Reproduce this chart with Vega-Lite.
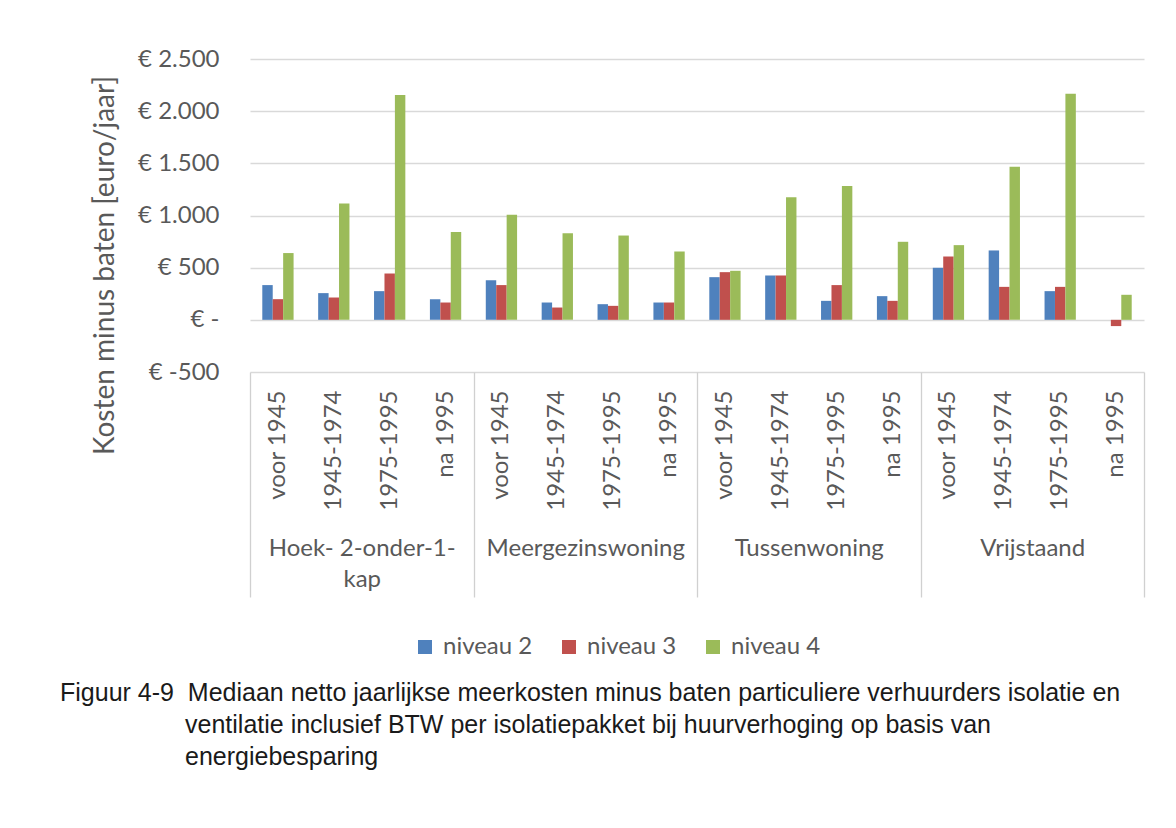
{
  "$schema": "https://vega.github.io/schema/vega-lite/v6.json",
  "width": 894,
  "height": 313,
  "autosize": "none",
  "padding": {"left": 250, "top": 59, "right": 32, "bottom": 456},
  "background": "white",
  "config": {
    "view": {"stroke": null},
    "font": "Lato",
    "axis": {"labelFont": "Lato", "titleFont": "Lato", "labelColor": "#595959", "titleColor": "#595959"},
    "legend": {"labelFont": "Lato"}
  },
  "title": {
    "text": [
      "Figuur 4-9\u00a0\u00a0Mediaan netto jaarlijkse meerkosten minus baten particuliere verhuurders isolatie en",
      "\u200b\u00a0\u00a0\u00a0\u00a0\u00a0\u00a0\u00a0\u00a0\u00a0\u00a0\u00a0\u00a0\u00a0\u00a0\u00a0\u00a0\u00a0\u00a0ventilatie inclusief BTW per isolatiepakket bij huurverhoging op basis van",
      "\u200b\u00a0\u00a0\u00a0\u00a0\u00a0\u00a0\u00a0\u00a0\u00a0\u00a0\u00a0\u00a0\u00a0\u00a0\u00a0\u00a0\u00a0\u00a0energiebesparing"
    ],
    "orient": "bottom",
    "anchor": "start",
    "frame": "group",
    "dx": -190,
    "offset": 22,
    "font": "Liberation Sans",
    "fontSize": 25,
    "fontWeight": "normal",
    "color": "#1a1a1a",
    "lineHeight": 32
  },
  "data": {
    "values": [
      {"g": "Hoek- 2-onder-1-kap", "p": "voor 1945", "key": "Hoek- 2-onder-1-kap|voor 1945", "n": "niveau 2", "v": 333},
      {"g": "Hoek- 2-onder-1-kap", "p": "voor 1945", "key": "Hoek- 2-onder-1-kap|voor 1945", "n": "niveau 3", "v": 198},
      {"g": "Hoek- 2-onder-1-kap", "p": "voor 1945", "key": "Hoek- 2-onder-1-kap|voor 1945", "n": "niveau 4", "v": 640},
      {"g": "Hoek- 2-onder-1-kap", "p": "1945-1974", "key": "Hoek- 2-onder-1-kap|1945-1974", "n": "niveau 2", "v": 256},
      {"g": "Hoek- 2-onder-1-kap", "p": "1945-1974", "key": "Hoek- 2-onder-1-kap|1945-1974", "n": "niveau 3", "v": 214},
      {"g": "Hoek- 2-onder-1-kap", "p": "1945-1974", "key": "Hoek- 2-onder-1-kap|1945-1974", "n": "niveau 4", "v": 1115},
      {"g": "Hoek- 2-onder-1-kap", "p": "1975-1995", "key": "Hoek- 2-onder-1-kap|1975-1995", "n": "niveau 2", "v": 275},
      {"g": "Hoek- 2-onder-1-kap", "p": "1975-1995", "key": "Hoek- 2-onder-1-kap|1975-1995", "n": "niveau 3", "v": 444},
      {"g": "Hoek- 2-onder-1-kap", "p": "1975-1995", "key": "Hoek- 2-onder-1-kap|1975-1995", "n": "niveau 4", "v": 2154},
      {"g": "Hoek- 2-onder-1-kap", "p": "na 1995", "key": "Hoek- 2-onder-1-kap|na 1995", "n": "niveau 2", "v": 198},
      {"g": "Hoek- 2-onder-1-kap", "p": "na 1995", "key": "Hoek- 2-onder-1-kap|na 1995", "n": "niveau 3", "v": 166},
      {"g": "Hoek- 2-onder-1-kap", "p": "na 1995", "key": "Hoek- 2-onder-1-kap|na 1995", "n": "niveau 4", "v": 841},
      {"g": "Meergezinswoning", "p": "voor 1945", "key": "Meergezinswoning|voor 1945", "n": "niveau 2", "v": 380},
      {"g": "Meergezinswoning", "p": "voor 1945", "key": "Meergezinswoning|voor 1945", "n": "niveau 3", "v": 333},
      {"g": "Meergezinswoning", "p": "voor 1945", "key": "Meergezinswoning|voor 1945", "n": "niveau 4", "v": 1007},
      {"g": "Meergezinswoning", "p": "1945-1974", "key": "Meergezinswoning|1945-1974", "n": "niveau 2", "v": 166},
      {"g": "Meergezinswoning", "p": "1945-1974", "key": "Meergezinswoning|1945-1974", "n": "niveau 3", "v": 118},
      {"g": "Meergezinswoning", "p": "1945-1974", "key": "Meergezinswoning|1945-1974", "n": "niveau 4", "v": 831},
      {"g": "Meergezinswoning", "p": "1975-1995", "key": "Meergezinswoning|1975-1995", "n": "niveau 2", "v": 150},
      {"g": "Meergezinswoning", "p": "1975-1995", "key": "Meergezinswoning|1975-1995", "n": "niveau 3", "v": 134},
      {"g": "Meergezinswoning", "p": "1975-1995", "key": "Meergezinswoning|1975-1995", "n": "niveau 4", "v": 808},
      {"g": "Meergezinswoning", "p": "na 1995", "key": "Meergezinswoning|na 1995", "n": "niveau 2", "v": 166},
      {"g": "Meergezinswoning", "p": "na 1995", "key": "Meergezinswoning|na 1995", "n": "niveau 3", "v": 166},
      {"g": "Meergezinswoning", "p": "na 1995", "key": "Meergezinswoning|na 1995", "n": "niveau 4", "v": 655},
      {"g": "Tussenwoning", "p": "voor 1945", "key": "Tussenwoning|voor 1945", "n": "niveau 2", "v": 409},
      {"g": "Tussenwoning", "p": "voor 1945", "key": "Tussenwoning|voor 1945", "n": "niveau 3", "v": 457},
      {"g": "Tussenwoning", "p": "voor 1945", "key": "Tussenwoning|voor 1945", "n": "niveau 4", "v": 470},
      {"g": "Tussenwoning", "p": "1945-1974", "key": "Tussenwoning|1945-1974", "n": "niveau 2", "v": 425},
      {"g": "Tussenwoning", "p": "1945-1974", "key": "Tussenwoning|1945-1974", "n": "niveau 3", "v": 425},
      {"g": "Tussenwoning", "p": "1945-1974", "key": "Tussenwoning|1945-1974", "n": "niveau 4", "v": 1176},
      {"g": "Tussenwoning", "p": "1975-1995", "key": "Tussenwoning|1975-1995", "n": "niveau 2", "v": 182},
      {"g": "Tussenwoning", "p": "1975-1995", "key": "Tussenwoning|1975-1995", "n": "niveau 3", "v": 333},
      {"g": "Tussenwoning", "p": "1975-1995", "key": "Tussenwoning|1975-1995", "n": "niveau 4", "v": 1282},
      {"g": "Tussenwoning", "p": "na 1995", "key": "Tussenwoning|na 1995", "n": "niveau 2", "v": 227},
      {"g": "Tussenwoning", "p": "na 1995", "key": "Tussenwoning|na 1995", "n": "niveau 3", "v": 182},
      {"g": "Tussenwoning", "p": "na 1995", "key": "Tussenwoning|na 1995", "n": "niveau 4", "v": 748},
      {"g": "Vrijstaand", "p": "voor 1945", "key": "Vrijstaand|voor 1945", "n": "niveau 2", "v": 499},
      {"g": "Vrijstaand", "p": "voor 1945", "key": "Vrijstaand|voor 1945", "n": "niveau 3", "v": 607},
      {"g": "Vrijstaand", "p": "voor 1945", "key": "Vrijstaand|voor 1945", "n": "niveau 4", "v": 716},
      {"g": "Vrijstaand", "p": "1945-1974", "key": "Vrijstaand|1945-1974", "n": "niveau 2", "v": 665},
      {"g": "Vrijstaand", "p": "1945-1974", "key": "Vrijstaand|1945-1974", "n": "niveau 3", "v": 316},
      {"g": "Vrijstaand", "p": "1945-1974", "key": "Vrijstaand|1945-1974", "n": "niveau 4", "v": 1467},
      {"g": "Vrijstaand", "p": "1975-1995", "key": "Vrijstaand|1975-1995", "n": "niveau 2", "v": 275},
      {"g": "Vrijstaand", "p": "1975-1995", "key": "Vrijstaand|1975-1995", "n": "niveau 3", "v": 316},
      {"g": "Vrijstaand", "p": "1975-1995", "key": "Vrijstaand|1975-1995", "n": "niveau 4", "v": 2167},
      {"g": "Vrijstaand", "p": "na 1995", "key": "Vrijstaand|na 1995", "n": "niveau 2", "v": 0},
      {"g": "Vrijstaand", "p": "na 1995", "key": "Vrijstaand|na 1995", "n": "niveau 3", "v": -60},
      {"g": "Vrijstaand", "p": "na 1995", "key": "Vrijstaand|na 1995", "n": "niveau 4", "v": 240}
    ]
  },
  "layer": [
    {
      "mark": {"type": "bar"},
      "encoding": {
        "x": {
          "field": "key",
          "type": "nominal",
          "sort": null,
          "scale": {"paddingInner": 0.44, "paddingOuter": 0.22},
          "axis": {
            "orient": "bottom",
            "title": null,
            "domain": false,
            "ticks": false,
            "labelAngle": -90,
            "labelPadding": 18,
            "labelFontSize": 24,
            "labelExpr": "split(datum.value, '|')[1]"
          }
        },
        "xOffset": {"field": "n", "type": "nominal", "sort": ["niveau 2", "niveau 3", "niveau 4"]},
        "y": {
          "field": "v",
          "type": "quantitative",
          "scale": {"domain": [-500, 2500], "nice": false},
          "axis": {
            "values": [-500, 0, 500, 1000, 1500, 2000, 2500],
            "domain": false,
            "ticks": false,
            "grid": true,
            "gridColor": "#d9d9d9",
            "gridWidth": 1.3,
            "labelPadding": 31,
            "labelFontSize": 24,
            "labelExpr": "datum.value == 0 ? '€ -' : (datum.value < 0 ? '€ -' + abs(datum.value) : '€ ' + replace(format(datum.value, ','), ',', '.'))",
            "title": "Kosten minus baten [euro/jaar]",
            "titleFontSize": 28,
            "titleFontWeight": "normal",
            "titleX": -145,
            "titleY": 206,
            "titleBaseline": "middle"
          }
        },
        "color": {
          "field": "n",
          "type": "nominal",
          "scale": {"domain": ["niveau 2", "niveau 3", "niveau 4"], "range": ["#4F81BD", "#C0504D", "#9BBB59"]},
          "legend": {
            "title": null,
            "orient": "none",
            "direction": "horizontal",
            "legendX": 163,
            "legendY": 576,
            "padding": 0,
            "symbolType": "square",
            "symbolSize": 196,
            "symbolStrokeWidth": 0,
            "labelFontSize": 24,
            "labelColor": "#595959",
            "labelOffset": 6,
            "columnPadding": 24
          }
        }
      }
    },
    {
      "mark": {"type": "point", "opacity": 0},
      "encoding": {
        "x": {
          "field": "g",
          "type": "nominal",
          "sort": ["Hoek- 2-onder-1-kap", "Meergezinswoning", "Tussenwoning", "Vrijstaand"],
          "scale": {"paddingInner": 0, "paddingOuter": 0},
          "axis": {
            "orient": "bottom",
            "title": null,
            "domain": false,
            "ticks": true,
            "tickBand": "extent",
            "tickSize": 225,
            "tickColor": "#d0d0d0",
            "tickWidth": 1.3,
            "labelAngle": 0,
            "labelLimit": 400,
            "labelPadding": -61,
            "labelFontSize": 24,
            "labelLineHeight": 31,
            "labelBaseline": "top",
            "labelExpr": "datum.value == 'Hoek- 2-onder-1-kap' ? ['Hoek- 2-onder-1-', 'kap'] : datum.value"
          }
        }
      }
    }
  ],
  "resolve": {"scale": {"x": "independent"}}
}
